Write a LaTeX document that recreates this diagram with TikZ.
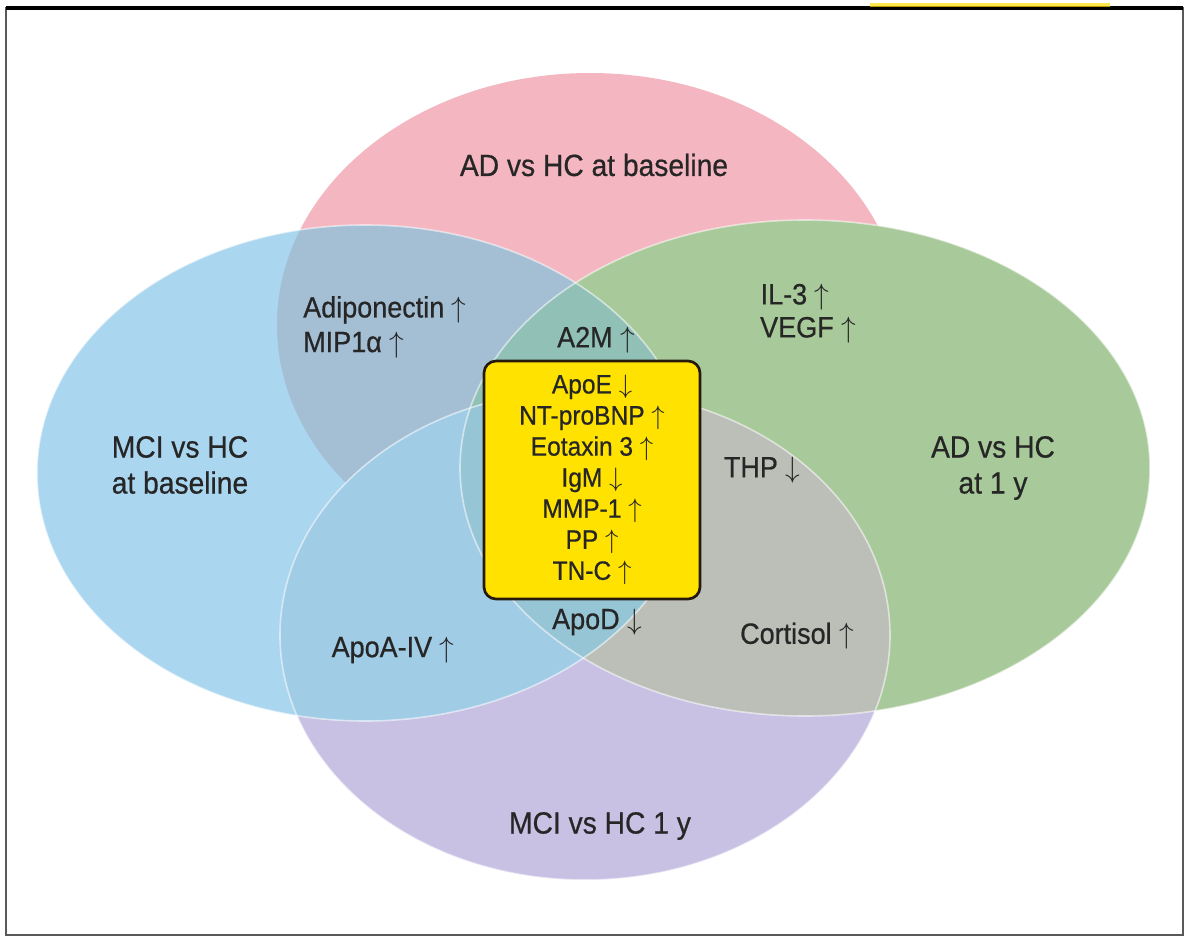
\documentclass[tikz,border=0pt]{standalone}
\usepackage{fix-cm}
\usepackage{fontspec}
\setmainfont{Liberation Sans}[FakeStretch=0.92,FakeBold=0.6]

\definecolor{adbase}{RGB}{244,183,193}
\definecolor{mcibase}{RGB}{170,214,240}
\definecolor{adyear}{RGB}{168,201,153}
\definecolor{mciyear}{RGB}{200,193,228}
\definecolor{pinkblue}{RGB}{164,190,212}
\definecolor{bluegreen}{RGB}{145,192,182}
\definecolor{bluepurple}{RGB}{160,204,230}
\definecolor{greenpurple}{RGB}{188,190,184}
\definecolor{lowcore}{RGB}{150,198,214}
\definecolor{corefill}{RGB}{255,226,0}

\newcommand{\incr}{~$\uparrow$}
\newcommand{\decr}{~$\downarrow$}

\begin{document}
\begin{tikzpicture}[x=0.75pt,y=0.75pt,yscale=-1,xscale=1,
  edge/.style={draw=white,line width=1.2,opacity=0.55},
  lbl/.style={inner sep=0.75pt,align=center,text=black!85,font=\fontsize{23}{27}\selectfont},
  markerlbl/.style={inner sep=0.75pt,align=left,text=black!85,font=\fontsize{22}{26}\selectfont}]
\useasboundingbox (0,0) rectangle (1188,939);

%Frame
\draw [color=gray!70!black,line width=1.5]  (6,8) rectangle (1183,935) ;
\draw [line width=2.5]  (6,8) -- (1183,8) ;
\draw [color=yellow!80!orange,line width=3,opacity=0.7]  (870,5) -- (1110,5) ;

%Shape: Ellipse [AD vs HC at baseline]
\fill [adbase]  (590,325) ellipse [x radius=313,y radius=252] ;
%Shape: Ellipse [MCI vs HC at baseline]
\fill [mcibase]  (365,473) ellipse [x radius=328,y radius=248] ;
%Shape: Ellipse [AD vs HC at 1 y]
\fill [adyear]  (805,468) ellipse [x radius=345,y radius=248] ;
%Shape: Ellipse [MCI vs HC 1 y]
\fill [mciyear]  (585,635) ellipse [x radius=305,y radius=245] ;

%Overlaps
\begin{scope}
\clip (590,325) ellipse [x radius=313,y radius=252] ;
\fill [pinkblue]  (365,473) ellipse [x radius=328,y radius=248] ;
\end{scope}
\begin{scope}
\clip (365,473) ellipse [x radius=328,y radius=248] ;
\fill [bluegreen]  (805,468) ellipse [x radius=345,y radius=248] ;
\end{scope}
\begin{scope}
\clip (585,635) ellipse [x radius=305,y radius=245] ;
\fill [bluepurple]  (365,473) ellipse [x radius=328,y radius=248] ;
\fill [greenpurple]  (805,468) ellipse [x radius=345,y radius=248] ;
\clip (365,473) ellipse [x radius=328,y radius=248] ;
\fill [lowcore]  (805,468) ellipse [x radius=345,y radius=248] ;
\end{scope}

%Edges
\draw [edge]  (365,473) ellipse [x radius=328,y radius=248] ;
\draw [edge]  (805,468) ellipse [x radius=345,y radius=248] ;
\draw [edge]  (585,635) ellipse [x radius=305,y radius=245] ;

%Rounded Rect [common markers]
\draw (592,480) node [draw=black!80!brown,line width=2,fill=corefill,rounded corners=9,
  minimum width=162,minimum height=178.5,inner sep=0pt,align=center,text=black!85,
  font=\fontsize{20}{23.3}\selectfont] (core)
  {ApoE\decr\\NT-proBNP\incr\\Eotaxin 3\incr\\IgM\decr\\MMP-1\incr\\PP\incr\\TN-C\incr};

% Text Node
\draw (594,165) node [lbl] (adbaselbl) {AD vs HC at baseline};
% Text Node
\draw (180,465) node [lbl] (mcibaselbl) {MCI vs HC\\at baseline};
% Text Node
\draw (993,468) node [lbl] (adyearlbl) {AD vs HC\\at 1 y};
% Text Node
\draw (600,826) node [lbl] (mciyearlbl) {MCI vs HC 1 y};

% Text Node
\draw (302,327) node [markerlbl,anchor=west] (adipo) {Adiponectin\incr\\MIP1α\incr};
% Text Node
\draw (596,340) node [markerlbl] (a2m) {A2M\incr};
% Text Node
\draw (795,297) node [markerlbl] (il3) {IL-3\incr};
% Text Node
\draw (808,330) node [markerlbl] (vegf) {VEGF\incr};
% Text Node
\draw (762,470) node [markerlbl] (thp) {THP\decr};
% Text Node
\draw (797,636) node [markerlbl] (cortisol) {Cortisol\incr};
% Text Node
\draw (393,650) node [markerlbl] (apoa) {ApoA-IV\incr};
% Text Node
\draw (597,622) node [markerlbl] (apod) {ApoD\decr};

\end{tikzpicture}
\end{document}
